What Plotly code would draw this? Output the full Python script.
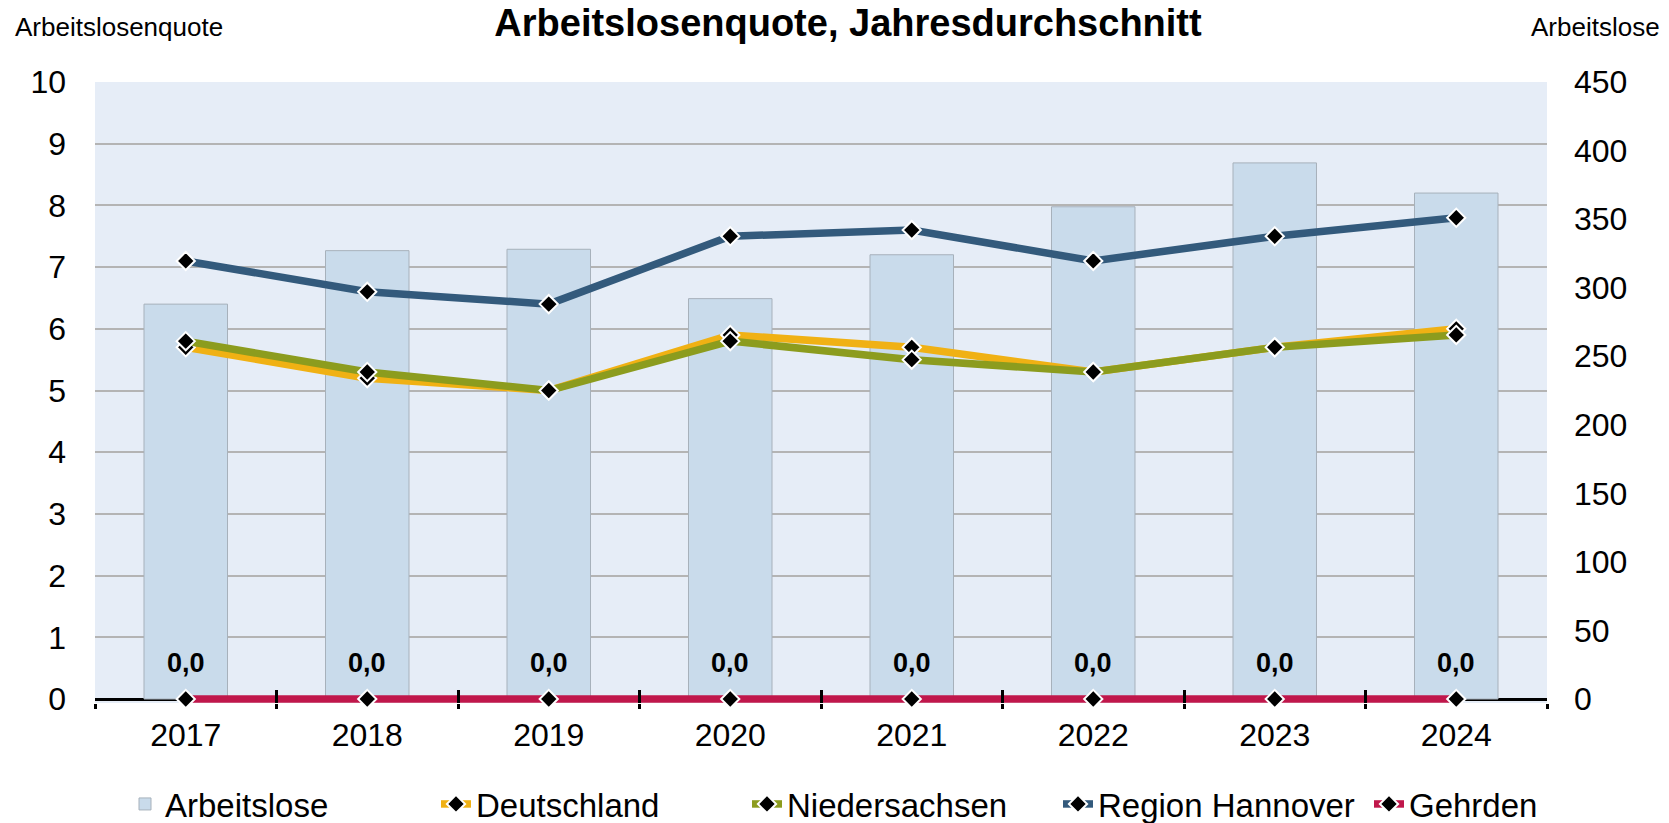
import plotly.graph_objects as go

# ---- data ----
years = ["2017", "2018", "2019", "2020", "2021", "2022", "2023", "2024"]
arbeitslose = [288, 327, 328, 292, 324, 359, 391, 369]
deutschland = [5.7, 5.2, 5.0, 5.9, 5.7, 5.3, 5.7, 6.0]
niedersachsen = [5.8, 5.3, 5.0, 5.8, 5.5, 5.3, 5.7, 5.9]
region_hannover = [7.1, 6.6, 6.4, 7.5, 7.6, 7.1, 7.5, 7.8]
gehrden = [0.0, 0.0, 0.0, 0.0, 0.0, 0.0, 0.0, 0.0]

title_text = "Arbeitslosenquote, Jahresdurchschnitt"
left_axis_title = "Arbeitslosenquote"
right_axis_title = "Arbeitslose"
quote_max, quote_step = 10, 1
count_max, count_step = 450, 50

# ---- layout geometry (pixels) ----
W, H = 1669, 823
ML, MR, MT, MB = 95, 122, 82, 120
ZERO_PAD = 4  # px of plot area kept below the zero line so the Gehrden line is not clipped
plot_w = W - ML - MR
plot_h = H - MT - MB
q_pad = ZERO_PAD * quote_max / (plot_h - ZERO_PAD)
c_pad = q_pad * count_max / quote_max

LEG_ENTRY = 266
LEG_LEFT = 120
LEG_WIDTH = 5 * (LEG_ENTRY + 45) + 5


def px_x(px):
    return (px - ML) / plot_w


def px_y(py):
    return (H - MB - py) / plot_h


FONT = "Liberation Sans, Arial, sans-serif"

fig = go.Figure()

fig.add_trace(go.Bar(
    x=years, y=arbeitslose, name="Arbeitslose",
    xaxis="x", yaxis="y",
    marker=dict(color="#C9DBEB", line=dict(color="#A7B1BB", width=1)),
    width=0.46, hoverinfo="skip",
))

line_series = [
    ("Deutschland", deutschland, "#F0B114"),
    ("Niedersachsen", niedersachsen, "#8C9C1E"),
    ("Region Hannover", region_hannover, "#335A7C"),
    ("Gehrden", gehrden, "#C0174B"),
]
for name, vals, col in line_series:
    fig.add_trace(go.Scatter(
        x=years, y=vals, name=name, xaxis="x", yaxis="y2",
        mode="lines+markers",
        line=dict(color=col, width=7.5),
        marker=dict(symbol="diamond", size=14, color="black",
                    line=dict(color="white", width=2)),
        cliponaxis=False, hoverinfo="skip",
    ))

# helper trace on an overlaid x-axis to draw the inner half of the crossing ticks
fig.add_trace(go.Scatter(
    x=years, y=gehrden, xaxis="x2", yaxis="y2", mode="lines",
    line=dict(width=0), opacity=0, showlegend=False, hoverinfo="skip",
))

# data labels for Gehrden (category axis -> serial index)
for i, v in enumerate(gehrden):
    fig.add_annotation(
        x=i, y=v, xref="x", yref="y2",
        text="<b>" + f"{v:.1f}".replace(".", ",") + "</b>",
        showarrow=False, yshift=36, font=dict(family=FONT, size=27, color="black"),
    )

# axis titles
fig.add_annotation(x=px_x(13), y=px_y(27), xref="paper", yref="paper",
                   text=left_axis_title, showarrow=False, xanchor="left", yanchor="middle",
                   font=dict(family=FONT, size=26, color="black"))
fig.add_annotation(x=px_x(1662), y=px_y(27), xref="paper", yref="paper",
                   text=right_axis_title, showarrow=False, xanchor="right", yanchor="middle",
                   font=dict(family=FONT, size=26, color="black"))

fig.update_layout(
    width=W, height=H,
    margin=dict(l=ML, r=MR, t=MT, b=MB, pad=0, autoexpand=False),
    paper_bgcolor="white", plot_bgcolor="#E6EDF7",
    font=dict(family=FONT, size=32, color="black"),
    separators=",.",
    title=dict(text="<b>" + title_text + "</b>", x=848 / W, xanchor="center", xref="container",
               y=1 - 23 / H, yanchor="middle", yref="container",
               font=dict(family=FONT, size=38, color="black")),
    showlegend=True,
    legend=dict(orientation="h", x=px_x(LEG_LEFT + LEG_WIDTH), xanchor="right",
                y=px_y(804), yanchor="middle",
                xref="paper", yref="paper",
                font=dict(family=FONT, size=33, color="black"),
                bgcolor="rgba(0,0,0,0)", entrywidth=LEG_ENTRY, entrywidthmode="pixels"),
    bargap=0.54,
    xaxis=dict(type="category", categoryorder="array", categoryarray=years,
               range=[-0.5, 7.5], showgrid=False, zeroline=False,
               showline=False,
               ticks="outside", tickson="boundaries", ticklen=5, tickwidth=2.5,
               tickcolor="black", ticklabelstandoff=10,
               tickfont=dict(family=FONT, size=32, color="black")),
    xaxis2=dict(type="category", categoryorder="array", categoryarray=years,
                range=[-0.5, 7.5], overlaying="x", side="bottom", anchor="y2",
                showgrid=False, zeroline=False, showline=False,
                ticks="inside", tickson="boundaries", ticklen=13, tickwidth=2.5,
                tickcolor="black", showticklabels=False),
    yaxis=dict(side="right", range=[-c_pad, count_max], dtick=count_step, tick0=0,
               showgrid=False, zeroline=False, showline=False, ticks="",
               ticklabelstandoff=26,
               tickfont=dict(family=FONT, size=32, color="black")),
    yaxis2=dict(side="left", overlaying="y", range=[-q_pad, quote_max], dtick=quote_step, tick0=0,
                showgrid=True, gridcolor="#B4B4B4", gridwidth=1.5,
                zeroline=True, zerolinecolor="black", zerolinewidth=2.5,
                showline=False, ticks="",
                ticklabelstandoff=28,
                tickfont=dict(family=FONT, size=32, color="black")),
)

fig.write_html("out.html", config={"displayModeBar": False},
               post_script="document.body.style.margin='0';document.body.style.overflow='hidden';")
